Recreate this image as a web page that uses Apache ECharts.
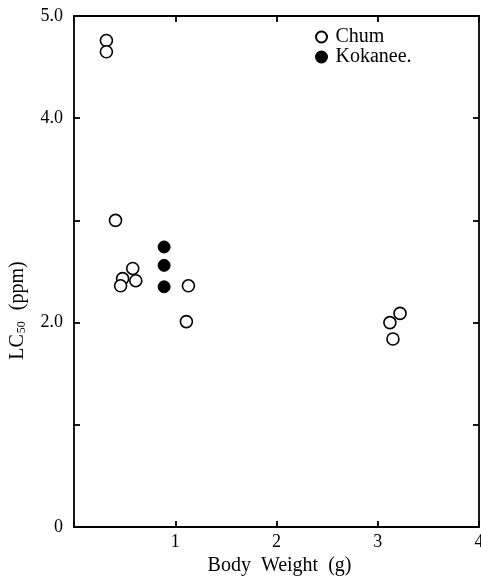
<!DOCTYPE html>
<html><head><meta charset="utf-8">
<script src="https://cdn.jsdelivr.net/npm/echarts@6/dist/echarts.min.js"></script>
<style>html,body{margin:0;padding:0;background:#fff}#c{width:481px;height:579px}</style>
</head><body><div id="c"></div>
<script>
const chumX = [0.32, 0.32, 0.41, 0.48, 0.46, 0.58, 0.61, 1.13, 1.11, 3.22, 3.12, 3.15];
const chumY = [4.76, 4.65, 3.00, 2.43, 2.36, 2.53, 2.41, 2.36, 2.01, 2.09, 2.00, 1.84];
const kokX = [0.89, 0.89, 0.89];
const kokY = [2.74, 2.56, 2.35];
const yLabels = {0: '0', 2: '2.0', 4: '4.0', 5: '5.0'};
const xLabels = {1: '1', 2: '2', 3: '3', 4: '4'};

const F = '"Liberation Serif", "DejaVu Serif", serif';
const chart = echarts.init(document.getElementById('c'));
const lineStyle = {color: '#000', width: 1.8};
chart.setOption({
  animation: false,
  backgroundColor: '#fff',
  grid: {left: 74, right: 2, top: 16, bottom: 52, containLabel: false, outerBoundsMode: 'none'},
  legend: {
    orient: 'vertical', left: 315, top: 27, itemGap: 0, padding: 0,
    itemWidth: 12, itemHeight: 11,
    textStyle: {fontFamily: F, fontSize: 20, lineHeight: 20, color: '#000', padding: [0, 0, 0, 3]},
    data: [{name: 'Chum', icon: 'circle'}, {name: 'Kokanee.', icon: 'circle'}]
  },
  xAxis: [{
    type: 'value', min: 0, max: 4, interval: 1, position: 'bottom',
    axisLine: {show: true, onZero: false, lineStyle},
    axisTick: {show: true, inside: true, length: 6, lineStyle},
    splitLine: {show: false},
    axisLabel: {fontFamily: F, fontSize: 18, color: '#000', margin: 6,
      formatter: v => xLabels[v] !== undefined ? xLabels[v] : ''},
    name: 'Body  Weight  (g)', nameLocation: 'middle', nameGap: 29,
    nameTextStyle: {fontFamily: F, fontSize: 20, color: '#000', padding: [0, 0, 0, 6]}
  }, {
    type: 'value', min: 0, max: 4, interval: 1, position: 'top',
    axisLine: {show: true, onZero: false, lineStyle},
    axisTick: {show: true, inside: true, length: 6, lineStyle},
    splitLine: {show: false}, axisLabel: {show: false}
  }],
  yAxis: [{
    type: 'value', min: 0, max: 5, interval: 1, position: 'left',
    axisLine: {show: true, onZero: false, lineStyle},
    axisTick: {show: true, inside: true, length: 6, lineStyle},
    splitLine: {show: false},
    axisLabel: {fontFamily: F, fontSize: 18, color: '#000', margin: 11,
      formatter: v => yLabels[v] !== undefined ? yLabels[v] : ''},
    name: 'LC{s|50}  (ppm)', nameLocation: 'middle', nameGap: 46, nameRotate: 90,
    nameTextStyle: {fontFamily: F, fontSize: 20, color: '#000', padding: [0, 78, 0, 0],
      rich: {s: {fontFamily: F, fontSize: 12, color: '#000', verticalAlign: 'bottom', padding: [8, 1, 0, 1]}}}
  }, {
    type: 'value', min: 0, max: 5, interval: 1, position: 'right',
    axisLine: {show: true, onZero: false, lineStyle},
    axisTick: {show: true, inside: true, length: 6, lineStyle},
    splitLine: {show: false}, axisLabel: {show: false}
  }],
  series: [{
    name: 'Chum', type: 'scatter', symbol: 'circle', symbolSize: 12,
    itemStyle: {color: '#fff', borderColor: '#000', borderWidth: 1.6, opacity: 1},
    data: chumX.map((x, i) => [x, chumY[i]])
  }, {
    name: 'Kokanee.', type: 'scatter', symbol: 'circle', symbolSize: 12,
    itemStyle: {color: '#000', borderColor: '#000', borderWidth: 1, opacity: 1},
    data: kokX.map((x, i) => [x, kokY[i]])
  }]
});
</script></body></html>
